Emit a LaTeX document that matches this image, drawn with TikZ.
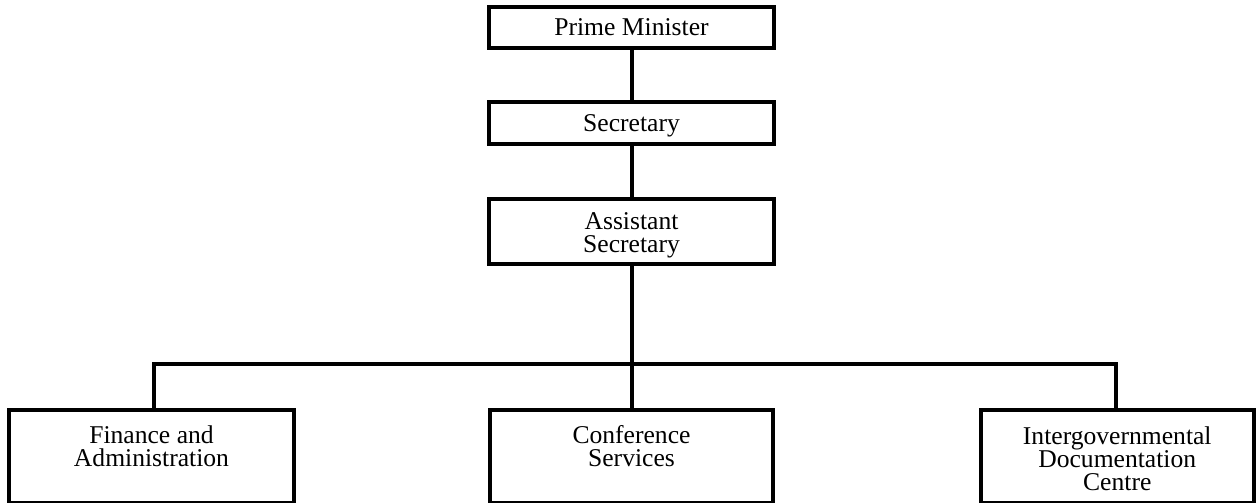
\documentclass[tikz,border=0pt]{standalone}
\usepackage{fontspec}
\setmainfont{Liberation Serif}
\begin{document}
\begin{tikzpicture}[x=1pt,y=-1pt,
  box/.style={draw,line width=4pt,rectangle,inner sep=0pt,outer sep=0pt},
  lbl/.style={inner sep=0pt,outer sep=0pt,align=center,font=\fontsize{25.6}{23}\selectfont},
  conn/.style={line width=4pt}]
\useasboundingbox (0,0) rectangle (1256,503);
% top column boxes
\node[box,minimum width=285pt,minimum height=41pt] (pm) at (631.5,27.5) {};
\node[box,minimum width=285pt,minimum height=42pt] (sec) at (631.5,123) {};
\node[box,minimum width=285pt,minimum height=65pt] (asst) at (631.5,231.5) {};
% bottom boxes
\node[box,minimum width=285pt,minimum height=93pt] (fin) at (151.5,456.75) {};
\node[box,minimum width=283pt,minimum height=93pt] (conf) at (631.5,456.75) {};
\node[box,minimum width=272.5pt,minimum height=93pt] (idc) at (1117.25,456.75) {};
% labels (base anchor = baseline of the last line)
\node[lbl,anchor=base] (pmt) at ([yshift=-29pt]pm.north) {Prime Minister};
\node[lbl,anchor=base] (sect) at ([yshift=-29.5pt]sec.north) {Secretary};
\node[lbl,anchor=base] (asstt) at ([yshift=-53pt]asst.north) {Assistant\\Secretary};
\node[lbl,anchor=base] (fint) at ([yshift=-56pt]fin.north) {Finance and\\Administration};
\node[lbl,anchor=base] (conft) at ([yshift=-56pt]conf.north) {Conference\\Services};
\node[lbl,anchor=base] (idct) at ([yshift=-80pt]idc.north) {Intergovernmental\\Documentation\\Centre};
% connectors
\coordinate (j) at (631.5,363.5);
\draw[conn] (pm.south) -- (sec.north);
\draw[conn] (sec.south) -- (asst.north);
\draw[conn] (asst.south) -- (j);
\draw[conn] (j) -- (conf.north);
\draw[conn] ([xshift=2pt]fin.north) |- (j);
\draw[conn] ([xshift=-1pt]idc.north) |- (j);
\end{tikzpicture}
\end{document}
